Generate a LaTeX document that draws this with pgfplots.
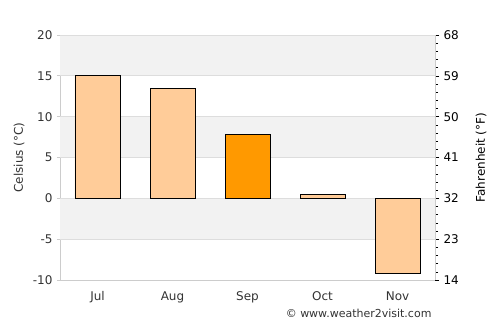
\documentclass[border=0pt]{standalone}
\usepackage{pgfplots}
\pgfplotsset{compat=1.18}
\usepackage{fontspec}
\setmainfont{DejaVu Sans}
\definecolor{band}{HTML}{F2F2F2}
\definecolor{gridc}{HTML}{DDDDDD}
\definecolor{axc}{HTML}{CCCCCC}
\definecolor{txt}{HTML}{333333}
\definecolor{peach}{HTML}{FFCC99}
\definecolor{orng}{HTML}{FF9900}
\begin{document}
\begin{tikzpicture}[x=1pt,y=1pt]
\begin{axis}[
  at={(0pt,0pt)}, anchor=south west,
  scale only axis, width=375pt, height=245pt,
  xmin=-0.5, xmax=4.5, ymin=-10, ymax=20,
  axis y line*=left, axis x line*=bottom,
  axis line style={draw=axc, line width=0.8pt},
  xtick={0,1,2,3,4}, xticklabels={Jul,Aug,Sep,Oct,Nov},
  x tick style={draw=none},
  ytick={-10,-5,...,20},
  y tick style={draw=axc, line width=0.8pt},
  tick align=outside, major tick length=3pt,
  tick label style={font=\fontsize{12}{14}\selectfont, text=txt},
  /pgf/number format/assume math mode=true,
  ylabel={Celsius (°C)},
  every axis y label/.style={at={(axis description cs:-0.109,0.5)}, rotate=90, anchor=center, font=\fontsize{12}{14}\selectfont, text=txt},
  xticklabel shift=5pt,
  yticklabel shift=1pt,
  ybar, bar width=0.6, bar shift=0pt,
  clip=false,
]
\fill[band] (axis cs:-0.5,15) rectangle (axis cs:4.5,20);
\fill[band] (axis cs:-0.5,5) rectangle (axis cs:4.5,10);
\fill[band] (axis cs:-0.5,-5) rectangle (axis cs:4.5,0);
\draw[gridc, line width=0.8pt] (axis cs:-0.5,20) -- (axis cs:4.5,20);
\draw[gridc, line width=0.8pt] (axis cs:-0.5,15) -- (axis cs:4.5,15);
\draw[gridc, line width=0.8pt] (axis cs:-0.5,10) -- (axis cs:4.5,10);
\draw[gridc, line width=0.8pt] (axis cs:-0.5,5) -- (axis cs:4.5,5);
\draw[gridc, line width=0.8pt] (axis cs:-0.5,0) -- (axis cs:4.5,0);
\draw[gridc, line width=0.8pt] (axis cs:-0.5,-5) -- (axis cs:4.5,-5);
\addplot[fill=peach, draw=black, line width=0.9pt] coordinates {(0,15.0) (1,13.4) (3,0.45) (4,-9.2)};
\addplot[fill=orng, draw=black, line width=0.9pt] coordinates {(2,7.8)};
\end{axis}
\begin{axis}[
  at={(0pt,0pt)}, anchor=south west,
  scale only axis, width=375pt, height=245pt,
  xmin=-0.5, xmax=4.5, ymin=14, ymax=68,
  axis y line*=right, axis x line=none,
  axis line style={draw=axc, line width=0.8pt},
  ytick={14,23,...,68},
  minor y tick num=4,
  tick align=outside, major tick length=4pt, minor tick length=3pt,
  y tick style={draw=black, line width=0.6pt},
  tick label style={font=\fontsize{12}{14}\selectfont, text=black},
  /pgf/number format/assume math mode=true,
  ylabel={Fahrenheit (°F)},
  every axis y label/.style={at={(axis description cs:1.1227,0.5)}, rotate=90, anchor=center, font=\fontsize{12}{14}\selectfont, text=black},
  yticklabel shift=1pt,
]
\addplot[draw=none] coordinates {(0,14)};
\end{axis}
\node[anchor=east, font=\fontsize{11}{13}\selectfont, text=txt] at (375pt,-33pt) {© www.weather2visit.com};
\pgfresetboundingbox
\useasboundingbox (-60pt,-45pt) rectangle (440pt,280pt);
\end{tikzpicture}
\end{document}
